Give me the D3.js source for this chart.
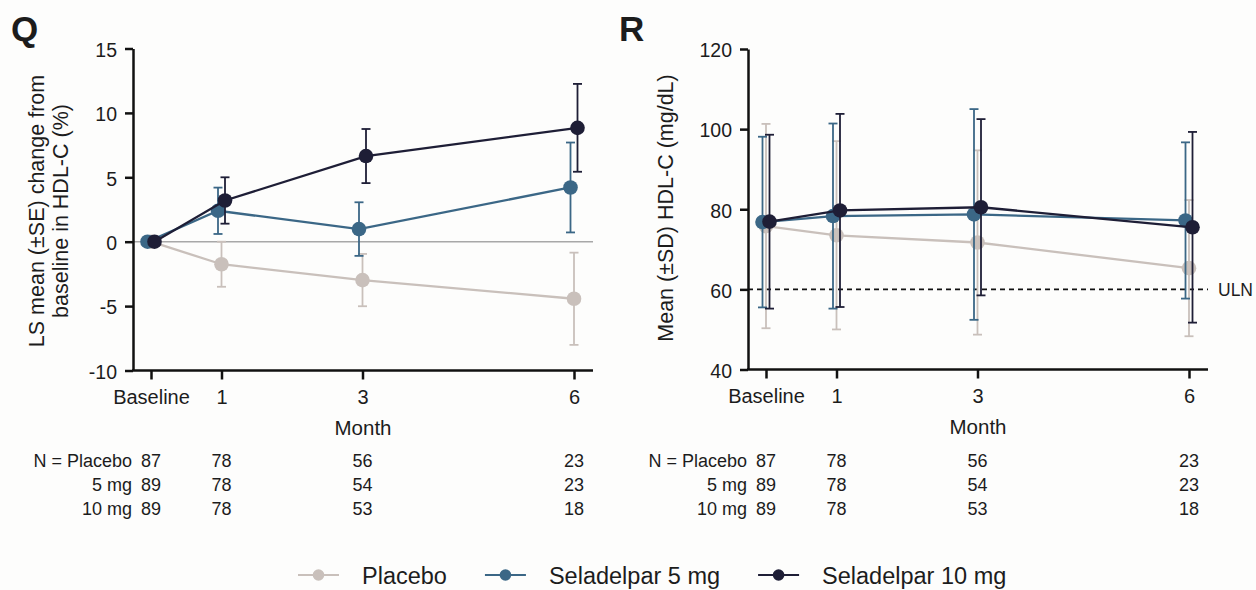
<!DOCTYPE html>
<html><head><meta charset="utf-8">
<script src="https://cdn.jsdelivr.net/npm/d3@7"></script>
<style>
body{margin:0;background:#fdfdfc;}
svg text{font-family:"Liberation Sans", Arial, Helvetica, sans-serif; fill:#1c1c1c;}
</style></head><body>
<svg id="c" width="1256" height="590"></svg>
<script>
// ---------- data ----------
const months = [0, 1, 3, 6];
const monthLabels = ["Baseline", "1", "3", "6"];
const seriesNames = ["Placebo", "Seladelpar 5 mg", "Seladelpar 10 mg"];
const seriesColors = ["#c9c0bb", "#3b6786", "#1e1e36"];
const groupLabels = ["N = Placebo", "5 mg", "10 mg"];
const nPlacebo = [87, 78, 56, 23];
const n5 = [89, 78, 54, 23];
const n10 = [89, 78, 53, 18];

// Panel Q: LS mean (±SE) % change from baseline in HDL-C
const lsPlacebo = [0, -1.75, -2.98, -4.43];
const lsPlaceboSE = [0, 1.75, 2.03, 3.58];
const ls5 = [0, 2.4, 0.98, 4.21];
const ls5SE = [0, 1.8, 2.08, 3.49];
const ls10 = [0, 3.2, 6.65, 8.84];
const ls10SE = [0, 1.8, 2.1, 3.41];

// Panel R: Mean (±SD) HDL-C (mg/dL)
const hdlPlacebo = [75.8, 73.5, 71.7, 65.3];
const hdlPlaceboSD = [25.5, 23.5, 23.0, 17.0];
const hdl5 = [76.8, 78.3, 78.7, 77.2];
const hdl5SD = [21.3, 23.1, 26.3, 19.5];
const hdl10 = [76.9, 79.7, 80.5, 75.5];
const hdl10SD = [21.7, 24.1, 22.0, 23.8];

const leftTicks = [-10, -5, 0, 5, 10, 15];
const rightTicks = [40, 60, 80, 100, 120];
const ulnValue = 60;

// ---------- drawing ----------
const svg = d3.select("#c");
svg.append("rect").attr("width", 1256).attr("height", 590).attr("fill", "#fdfdfc");

const offsets = [0, -3.5, 3.5];

function panel(o) {
  const g = svg.append("g");
  const x = d3.scaleLinear().domain([0, 6]).range([o.x0 + 18, o.x0 + 441]);
  const y = d3.scaleLinear().domain(o.yDomain).range([o.yBottom, o.yTop]);

  // reference lines
  if (o.zeroLine) {
    g.append("line").attr("x1", o.x0).attr("x2", o.x0 + 460)
      .attr("y1", y(0)).attr("y2", y(0))
      .attr("stroke", "#a8a8a8").attr("stroke-width", 1.4);
  }
  if (o.uln) {
    g.append("line").attr("x1", o.x0).attr("x2", o.x0 + 460)
      .attr("y1", y(ulnValue)).attr("y2", y(ulnValue))
      .attr("stroke", "#111").attr("stroke-width", 1.6).attr("stroke-dasharray", "5,4");
    g.append("text").attr("x", o.x0 + 470).attr("y", y(ulnValue) + 6.5)
      .attr("font-size", 17.5).text("ULN");
  }

  // axes
  const ya = g.append("g").attr("transform", `translate(${o.x0},0)`)
    .call(d3.axisLeft(y).tickValues(o.ticks).tickFormat(d => String(d))
      .tickSize(8).tickPadding(8).tickSizeOuter(0));
  ya.select(".domain").attr("stroke", "#111").attr("stroke-width", 2.5);
  ya.selectAll(".tick line").attr("stroke", "#111").attr("stroke-width", 2.5);
  ya.selectAll(".tick text").style("font-size", "19.5px").attr("dy", "0.4em");

  g.append("line").attr("x1", o.x0 - 1).attr("x2", o.x0 + 460)
    .attr("y1", o.yBottom).attr("y2", o.yBottom)
    .attr("stroke", "#111").attr("stroke-width", 2.5);
  const xa = g.append("g").attr("transform", `translate(0,${o.yBottom})`)
    .call(d3.axisBottom(x).tickValues(months).tickFormat((d, i) => monthLabels[i]).tickSize(9).tickPadding(10));
  xa.select(".domain").remove();
  xa.selectAll(".tick line").attr("stroke", "#111").attr("stroke-width", 2.5);
  xa.selectAll(".tick text").style("font-size", "20px");

  g.append("text").attr("x", o.x0 + 230).attr("y", o.yBottom + 64)
    .attr("text-anchor", "middle").style("font-size", "20.5px").text("Month");

  // y title
  o.yTitle.forEach((t, i) => {
    g.append("text")
      .attr("transform", `translate(${o.yTitleX + i * 24},${o.yTitleY}) rotate(-90)`)
      .attr("text-anchor", "middle").style("font-size", "21.5px").text(t);
  });

  // panel letter
  g.append("text").attr("x", o.letterX).attr("y", 41)
    .style("font-size", "35px").style("font-weight", "bold").text(o.letter);

  // series
  o.series.forEach((s, si) => {
    const col = seriesColors[si];
    const dx = offsets[si];
    const sg = g.append("g");
    const pts = months.map((m, i) => ({ m, v: s.v[i], e: s.e[i] }));
    pts.filter(p => p.e > 0).forEach(p => {
      const cx = x(p.m) + dx;
      sg.append("line").attr("x1", cx).attr("x2", cx)
        .attr("y1", y(p.v - p.e)).attr("y2", y(p.v + p.e))
        .attr("stroke", col).attr("stroke-width", 1.8);
      [p.v - p.e, p.v + p.e].forEach(vv => {
        sg.append("line").attr("x1", cx - 4.5).attr("x2", cx + 4.5)
          .attr("y1", y(vv)).attr("y2", y(vv))
          .attr("stroke", col).attr("stroke-width", 1.8);
      });
    });
    sg.append("path").datum(pts)
      .attr("d", d3.line().x(p => x(p.m) + dx).y(p => y(p.v)))
      .attr("fill", "none").attr("stroke", col).attr("stroke-width", 2.3);
    sg.selectAll("circle").data(pts).join("circle")
      .attr("cx", p => x(p.m) + dx).attr("cy", p => y(p.v)).attr("r", 7.3)
      .attr("fill", col);
  });

  // N table
  const nRows = [nPlacebo, n5, n10];
  const rowY = [467, 491, 515];
  nRows.forEach((row, ri) => {
    g.append("text").attr("x", o.x0 - 1).attr("y", rowY[ri])
      .attr("text-anchor", "end").style("font-size", "18px").text(groupLabels[ri]);
    row.forEach((n, i) => {
      g.append("text").attr("x", x(months[i])).attr("y", rowY[ri])
        .attr("text-anchor", "middle").style("font-size", "18px").text(n);
    });
  });
}

panel({
  x0: 133, yTop: 48.5, yBottom: 370.5, yDomain: [-10, 15], ticks: leftTicks,
  zeroLine: true, uln: false,
  yTitle: ["LS mean (\u00B1SE) change from", "baseline in HDL-C (%)"], yTitleX: 44, yTitleY: 211,
  letter: "Q", letterX: 11,
  series: [
    { v: lsPlacebo, e: lsPlaceboSE },
    { v: ls5, e: ls5SE },
    { v: ls10, e: ls10SE }
  ]
});

panel({
  x0: 748, yTop: 49, yBottom: 369.5, yDomain: [40, 120], ticks: rightTicks,
  zeroLine: false, uln: true,
  yTitle: ["Mean (\u00B1SD) HDL-C (mg/dL)"], yTitleX: 673, yTitleY: 208,
  letter: "R", letterX: 619,
  series: [
    { v: hdlPlacebo, e: hdlPlaceboSD },
    { v: hdl5, e: hdl5SD },
    { v: hdl10, e: hdl10SD }
  ]
});

// legend
const lg = svg.append("g");
let sx = 298;
seriesNames.forEach((name, i) => {
  lg.append("line").attr("x1", sx).attr("x2", sx + 41).attr("y1", 575).attr("y2", 575)
    .attr("stroke", seriesColors[i]).attr("stroke-width", 2.2);
  lg.append("circle").attr("cx", sx + 20.5).attr("cy", 575).attr("r", 5.8).attr("fill", seriesColors[i]);
  const t = lg.append("text").attr("x", sx + 64).attr("y", 584).style("font-size", "23.5px").text(name);
  sx = sx + 64 + t.node().getComputedTextLength() + 38;
});
</script>
</body></html>
